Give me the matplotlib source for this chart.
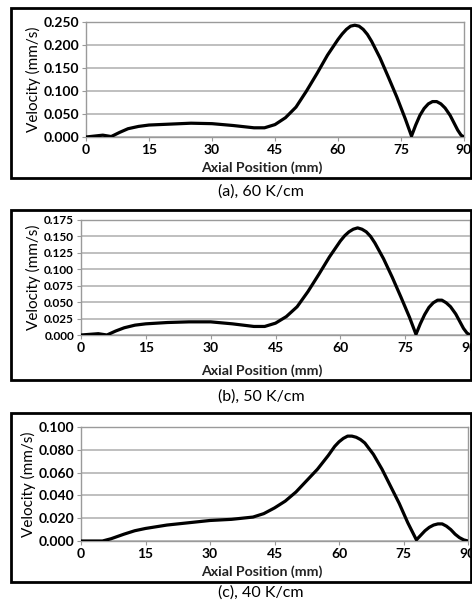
import matplotlib
matplotlib.use("Agg")
import matplotlib.pyplot as plt
from matplotlib.patches import Rectangle

# axial position (mm) and velocity (mm/s)
pos_a = [0, 2, 4, 6, 8, 10, 12.5, 15, 20, 25, 30, 35, 40, 42.5, 45, 47.5, 50,
         52.5, 55, 57.5, 60, 61, 62, 63, 64, 65, 66, 67, 68, 70, 72, 74, 76,
         77.5, 78.5, 79.5, 80.5, 81.5, 82.5, 83.5, 84.5, 85.5, 86.7, 88.5,
         89.3, 90]
vel_a = [0.000, 0.002, 0.004, 0.001, 0.010, 0.018, 0.023, 0.026, 0.028, 0.030,
         0.029, 0.025, 0.020, 0.020, 0.027, 0.042, 0.065, 0.100, 0.138, 0.178,
         0.212, 0.224, 0.234, 0.241, 0.243, 0.241, 0.234, 0.223, 0.208, 0.172,
         0.130, 0.087, 0.040, 0.002, 0.026, 0.047, 0.062, 0.072, 0.077, 0.077,
         0.072, 0.063, 0.047, 0.015, 0.004, 0.000]

pos_b = pos_a
vel_b = [0.000, 0.001, 0.002, 0.000, 0.006, 0.011, 0.015, 0.017, 0.019, 0.020,
         0.020, 0.017, 0.013, 0.013, 0.018, 0.028, 0.043, 0.066, 0.092, 0.119,
         0.143, 0.151, 0.157, 0.161, 0.163, 0.161, 0.157, 0.150, 0.140, 0.116,
         0.088, 0.058, 0.027, 0.001, 0.017, 0.031, 0.042, 0.049, 0.053, 0.053,
         0.049, 0.043, 0.032, 0.010, 0.003, 0.000]

pos_c = [0, 2, 5, 7, 10, 12.5, 15, 20, 25, 30, 35, 40, 42.5, 45, 47.5, 50,
         52.5, 55, 57.5, 59, 60, 61, 62, 63, 64, 65, 66, 67, 68, 70, 72, 74,
         76, 78, 79, 80, 81, 82, 83, 84, 85, 86, 87, 88, 89, 90]
vel_c = [0.000, 0.000, 0.000, 0.002, 0.006, 0.009, 0.011, 0.014, 0.016, 0.018,
         0.019, 0.021, 0.024, 0.029, 0.035, 0.043, 0.053, 0.063, 0.075, 0.083,
         0.087, 0.090, 0.092, 0.092, 0.091, 0.089, 0.086, 0.081, 0.076, 0.063,
         0.048, 0.033, 0.016, 0.001, 0.005, 0.009, 0.012, 0.014, 0.015, 0.015,
         0.013, 0.010, 0.006, 0.003, 0.001, 0.000]

x_ticks = [0, 15, 30, 45, 60, 75, 90]
y_ticks_a = [0.0, 0.05, 0.10, 0.15, 0.20, 0.25]
y_ticks_b = [0.0, 0.025, 0.05, 0.075, 0.10, 0.125, 0.15, 0.175]
y_ticks_c = [0.0, 0.02, 0.04, 0.06, 0.08, 0.10]
captions = ["(a), 60 K/cm", "(b), 50 K/cm", "(c), 40 K/cm"]

plt.rcParams['font.family'] = ['Lato', 'DejaVu Sans']

W, H = 472, 603
fig = plt.figure(figsize=(W / 100, H / 100), dpi=100)

# (pos, vel, yticks, ymax, tick fontsize, axes box px, frame px, xlabel y px, caption y px)
panels = [
    (pos_a, vel_a, y_ticks_a, 0.25, 10, (86, 22, 464, 137), (11, 8, 471, 178), 168, 192),
    (pos_b, vel_b, y_ticks_b, 0.175, 8.5, (81, 220, 470, 335), (11, 210, 471, 380), 371, 397),
    (pos_c, vel_c, y_ticks_c, 0.10, 10, (81, 427, 468, 541), (11, 413, 471, 582), 572, 593),
]

for (xs, ys, yt, ymax, fs, box, frame, xl_y, cap_y), cap in zip(panels, captions):
    l, t, r, b = box
    ax = fig.add_axes([l / W, 1 - b / H, (r - l) / W, (b - t) / H])
    ax.plot(xs, ys, color='black', lw=2.3, solid_joinstyle='round',
            solid_capstyle='round', zorder=3)
    ax.set_xlim(0, 90)
    ax.set_ylim(0, ymax)
    ax.set_xticks(x_ticks)
    ax.set_yticks(yt)
    ax.set_yticklabels(["%.3f" % v for v in yt], fontsize=fs, fontweight='bold')
    ax.set_xticklabels([str(v) for v in x_ticks], fontsize=10, fontweight='bold')
    ax.grid(axis='y', color='#b4b4b4', lw=1.2)
    ax.set_axisbelow(True)
    for s in ax.spines.values():
        s.set_color('#9a9a9a')
        s.set_linewidth(1.0)
    ax.tick_params(axis='both', length=3, color='#9a9a9a', pad=2)
    ax.set_xlabel("Axial Position (mm)", fontsize=10.2, fontweight='bold',
                  color='#222222', va='center')
    ax.xaxis.set_label_coords(262 / W, 1 - xl_y / H, transform=fig.transFigure)
    ax.set_ylabel("Velocity (mm/s)", fontsize=11, labelpad=2)

    fl, ft, fr, fb = frame
    fig.patches.append(Rectangle((fl / W, 1 - fb / H), (fr - fl) / W, (fb - ft) / H,
                                 transform=fig.transFigure, fill=False,
                                 edgecolor='black', lw=2.0))
    fig.text(261 / W, 1 - cap_y / H, cap, ha='center', va='center', fontsize=11.5)

fig.savefig("out.png", dpi=100)
